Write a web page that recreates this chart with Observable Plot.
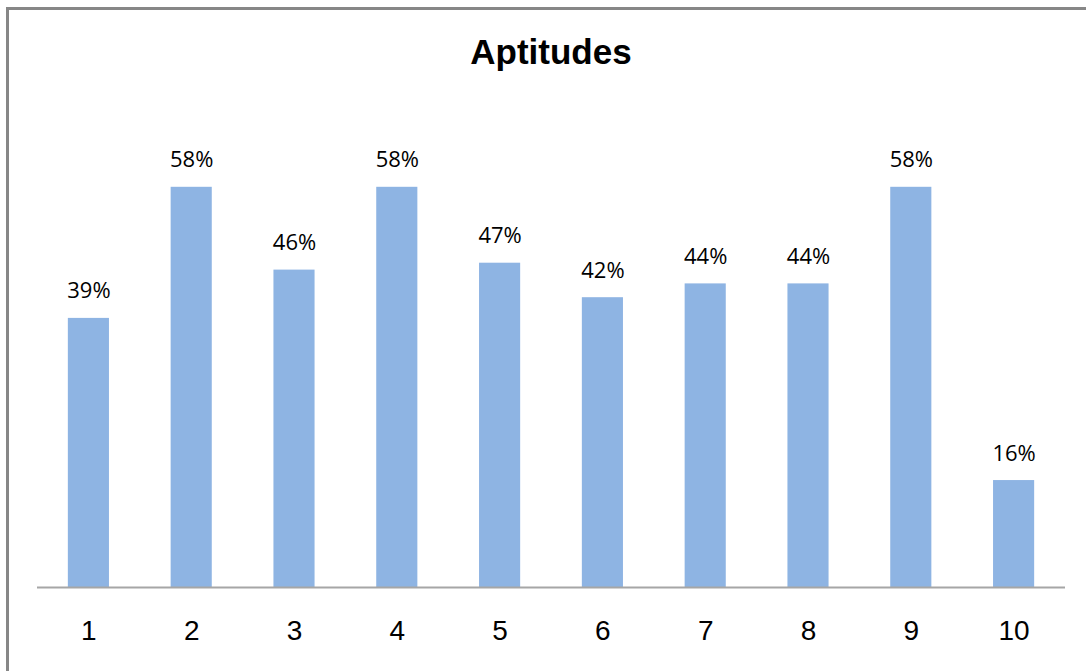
<!DOCTYPE html>
<html>
<head>
<meta charset="utf-8">
<script src="https://cdn.jsdelivr.net/npm/d3@7"></script>
<script src="https://cdn.jsdelivr.net/npm/@observablehq/plot@0.6"></script>
<style>
  html, body { margin: 0; padding: 0; background: #fff; }
  #wrap { position: relative; width: 1086px; height: 671px; overflow: hidden; background: #fff; }
  #frame { position: absolute; left: 6px; top: 7px; width: 1200px; height: 800px;
           border-top: 3px solid #878787; border-left: 3px solid #878787; }
  #title { position: absolute; left: 0; width: 1102px; top: 32px; text-align: center;
           font-family: "Liberation Sans", Arial, sans-serif; font-weight: bold; font-size: 35px; color: #000; }
  #chart { position: absolute; left: 0; top: 100px; }
</style>
</head>
<body>
<div id="wrap">
  <div id="frame"></div>
  <div id="title">Aptitudes</div>
  <div id="chart"></div>
</div>
<script>
const categories = ["1", "2", "3", "4", "5", "6", "7", "8", "9", "10"];
const values = [39, 58, 46, 58, 47, 42, 44, 44, 58, 15.5];

const data = categories.map((c, i) => ({cat: c, value: values[i]}));

const chart = Plot.plot({
  width: 1086,
  height: 571,
  marginTop: 73,
  marginBottom: 84,
  marginLeft: 37,
  marginRight: 21,
  style: {background: "transparent"},
  x: {domain: categories, paddingInner: 0.6, paddingOuter: 0.3, round: false, label: null},
  y: {domain: [0, 60], axis: null},
  marks: [
    Plot.barY(data, {x: "cat", y: "value", fill: "#8EB4E3"}),
    Plot.ruleY([0], {stroke: "#a6a6a6", strokeWidth: 2}),
    Plot.text(data, {x: "cat", y: "value", text: d => Math.round(d.value) + "%",
      lineAnchor: "bottom", dy: -20, fontSize: 22, fill: "#000",
      fontFamily: "'Open Sans', sans-serif"}),
    Plot.axisX({tickSize: 0, tickPadding: 33, fontSize: 28, label: null,
      fontFamily: "'Liberation Sans', Arial, sans-serif", color: "#000"})
  ]
});
document.getElementById("chart").appendChild(chart);
</script>
</body>
</html>
